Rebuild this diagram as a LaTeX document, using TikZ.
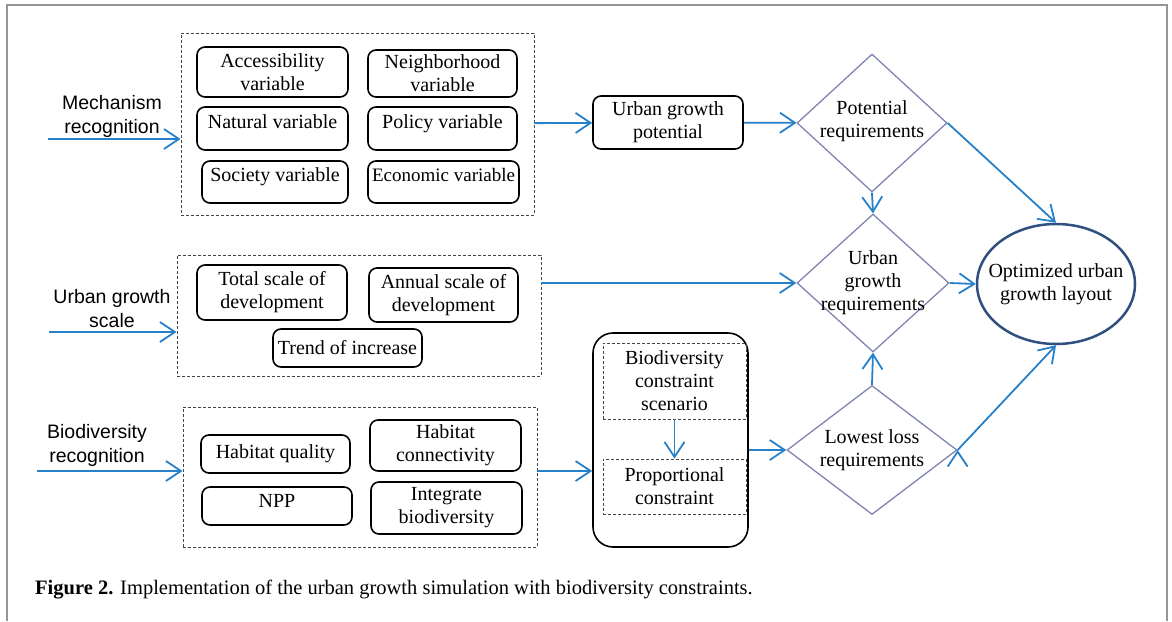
\documentclass[tikz,border=0pt]{standalone}
\usepackage{fontspec}
\setmainfont{Liberation Serif}
\newfontfamily\labelfont{Liberation Sans}
\usetikzlibrary{shapes.geometric,arrows.meta}

\definecolor{flowblue}{RGB}{38,128,202}
\definecolor{reqgray}{RGB}{128,132,176}
\definecolor{ellipseblue}{RGB}{48,78,128}
\definecolor{dashgray}{RGB}{70,70,70}
\definecolor{framegray}{RGB}{150,150,150}

\newcommand{\shapetext}[1]{\makebox[0pt]{\begin{tabular}{@{}c@{}}#1\end{tabular}}}

\begin{document}
\begin{tikzpicture}[x=1pt, y=-1pt,
  main node/.style={draw, line width=1.6pt, rounded corners=8pt, align=center, inner sep=0pt, font=\fontsize{20}{23}\selectfont},
  group node/.style={draw=dashgray, line width=0.9pt, dash pattern=on 3pt off 2pt, inner sep=0pt},
  side node/.style={align=center, inner sep=0pt, font=\labelfont\fontsize{19.5}{24}\selectfont},
  req node/.style={diamond, draw=reqgray, line width=1.3pt, inner sep=0pt, font=\fontsize{20}{23}\selectfont},
  flow/.style={draw=flowblue, line width=1.8pt, -{Straight Barb[length=15pt,width=20pt]}}]
\useasboundingbox (0,0) rectangle (1172,621);
\draw[framegray, line width=2pt] (7,621) -- (7,5) -- (1167,5) -- (1167,621);

\node[group node, minimum width=353, minimum height=182] (mechanism)  at (357.5,124) {};
\node[group node, minimum width=364, minimum height=121] (scalegroup) at (359,315.5) {};
\node[group node, minimum width=354, minimum height=140] (biogroup)   at (360,477)   {};

\node[main node, minimum width=151, minimum height=50] (accessibility) at (272.5,72)  {Accessibility\\variable};
\node[main node, minimum width=149, minimum height=47] (neighborhood)  at (442.5,73.5) {Neighborhood\\variable};
\node[main node, minimum width=151, minimum height=43, text depth=14pt] (natural) at (272.5,128.5) {Natural variable};
\node[main node, minimum width=149, minimum height=43, text depth=14pt] (policy)  at (442.5,128.5) {Policy variable};
\node[main node, minimum width=146, minimum height=42, text depth=14pt] (society) at (275,182)   {Society variable};
\node[main node, minimum width=151, minimum height=42, text depth=14pt, font=\fontsize{19}{23}\selectfont] (economic) at (443.5,182) {Economic variable};

\node[main node, minimum width=150, minimum height=55] (totalscale)  at (272,292.5) {Total scale of\\development};
\node[main node, minimum width=149, minimum height=54] (annualscale) at (443.5,295) {Annual scale of\\development};
\node[main node, minimum width=149, minimum height=38] (trend)       at (347.5,348) {Trend of increase};

\node[main node, minimum width=149, minimum height=38] (habitatquality) at (275.5,454) {Habitat quality};
\node[main node, minimum width=151, minimum height=51] (connectivity)   at (445.5,445.5) {Habitat\\connectivity};
\node[main node, minimum width=150, minimum height=38, text depth=10pt] (npp) at (277,506) {NPP};
\node[main node, minimum width=151, minimum height=52] (integrate)      at (446.5,508) {Integrate\\biodiversity};

\node[side node] (mechlabel)  at (112,116) {Mechanism\\recognition};
\node[side node] (scalelabel) at (112,309) {Urban growth\\scale};
\node[side node] (biolabel)   at (97,445)  {Biodiversity\\recognition};
\coordinate (mechstart)  at (48,139);
\coordinate (scalestart) at (49,332);
\coordinate (biostart)   at (37,471);

\node[main node, minimum width=150, minimum height=53] (urbanpotential) at (668,122.5) {Urban growth\\potential};
\node[main node, rounded corners=20pt, minimum width=155, minimum height=214] (constraintbox) at (670.5,440) {};
\node[main node, draw=dashgray, line width=0.9pt, dash pattern=on 3pt off 2pt, rounded corners=0pt, minimum width=143, minimum height=76] (scenario) at (674.5,381) {Biodiversity\\constraint\\scenario};
\node[main node, draw=dashgray, line width=0.9pt, dash pattern=on 3pt off 2pt, rounded corners=0pt, minimum width=143, minimum height=55] (proportional) at (674.5,486.5) {Proportional\\constraint};

\node[req node, minimum width=150, minimum height=138] (potentialreq) at (872,123) {\shapetext{Potential\\requirements\\[4pt]}};
\node[req node, minimum width=152, minimum height=138] (growthreq)    at (873,283) {\shapetext{Urban\\growth\\requirements}};
\node[req node, minimum width=170, minimum height=129] (lowestloss)   at (872,450) {\shapetext{Lowest loss\\requirements}};

\node[ellipse, draw=ellipseblue, line width=2.5pt, inner sep=0pt, minimum width=158, minimum height=120, font=\fontsize{20}{23}\selectfont] (optimized) at (1056,284) {\shapetext{Optimized urban\\growth layout}};

\node[anchor=west, inner sep=0pt, font=\fontsize{20.5}{24}\selectfont] (caption) at (35,590) {\textbf{Figure 2.} Implementation of the urban growth simulation with biodiversity constraints.};

\path[flow]
(mechstart)  edge (mechstart -| mechanism.west)
(scalestart) edge (scalestart -| scalegroup.west)
(biostart)   edge (biostart -| biogroup.west)
(mechanism)  edge (urbanpotential)
(urbanpotential) edge (potentialreq)
(scalegroup.east |- growthreq) edge (growthreq.west)
(biostart -| biogroup.east) edge (biostart -| constraintbox.west)
(scenario)   edge (proportional)
(constraintbox.east |- lowestloss) edge (lowestloss.west)
(potentialreq.south) edge (growthreq.north)
(lowestloss.north)   edge (growthreq.south)
(potentialreq.east)  edge (optimized.north)
(growthreq.east)     edge (optimized.west)
(lowestloss.east)    edge (optimized.south)
;
\end{tikzpicture}
\end{document}
